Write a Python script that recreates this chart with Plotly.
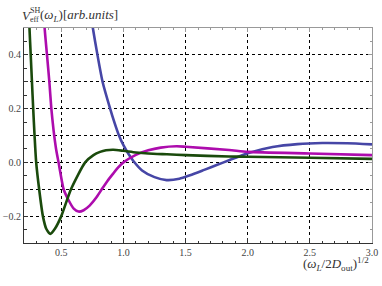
import plotly.graph_objects as go

# ---- data ----
green_x = [0.240, 0.244, 0.254, 0.264, 0.274, 0.285, 0.298, 0.322, 0.352, 0.380, 0.412, 0.450,
           0.500, 0.578, 0.692, 0.759, 0.812, 0.860, 0.919, 1.000, 1.100, 1.200, 1.350,
           1.500, 1.850, 2.000, 2.500, 3.000]
green_y = [0.56, 0.50, 0.40, 0.30, 0.20, 0.10, 0.0, -0.10, -0.20, -0.248, -0.266, -0.246,
           -0.200, -0.100, 0.000, 0.027, 0.039, 0.045, 0.047, 0.043, 0.037, 0.033, 0.030,
           0.027, 0.022, 0.021, 0.017, 0.013]

magenta_x = [0.360, 0.366, 0.385, 0.404, 0.420, 0.438, 0.458, 0.478, 0.519, 0.558, 0.600, 0.639,
             0.680, 0.730, 0.780, 0.826, 0.870, 0.919, 0.960, 1.000, 1.100, 1.200, 1.300, 1.427,
             1.500, 1.850, 2.000, 2.500, 3.000]
magenta_y = [0.56, 0.50, 0.40, 0.30, 0.20, 0.119, 0.050, 0.0, -0.10, -0.140, -0.172, -0.183,
             -0.178, -0.160, -0.132, -0.100, -0.070, -0.041, -0.018, 0.000, 0.028, 0.045, 0.055, 0.060,
             0.058, 0.046, 0.039, 0.033, 0.027]

blue_x = [0.735, 0.754, 0.791, 0.832, 0.893, 0.930, 0.960, 1.000, 1.040, 1.080, 1.150, 1.250,
          1.347, 1.450, 1.536, 1.650, 1.750, 1.850, 2.000, 2.200, 2.400, 2.600, 2.800, 3.000]
blue_y = [0.56, 0.50, 0.40, 0.30, 0.20, 0.145, 0.105, 0.064, 0.032, 0.005, -0.030, -0.055,
          -0.066, -0.061, -0.048, -0.028, -0.010, 0.008, 0.034, 0.057, 0.068, 0.072, 0.071, 0.067]

x_tick_vals = [0.5, 1.0, 1.5, 2.0, 2.5, 3.0]
x_tick_text = ["0.5", "1.0", "1.5", "2.0", "2.5", "3.0"]
y_tick_vals = [-0.2, -0.1, 0.0, 0.1, 0.2, 0.3, 0.4]
y_tick_text = ["\u22120.2", "", "0.0", "", "0.2", "", "0.4"]

W, H = 382, 286
ML, MR, MT, MB = 24, 10, 28, 43
PW, PH = W - ML - MR, H - MT - MB


def px(xp):
    return (xp - ML) / PW


def py(yp):
    return 1 - (yp - MT) / PH


fig = go.Figure()
for xs, ys, col in [(blue_x, blue_y, "#4646a6"),
                    (magenta_x, magenta_y, "#ad0cad"),
                    (green_x, green_y, "#1a4a0c")]:
    fig.add_trace(go.Scatter(x=xs, y=ys, mode="lines",
                             line=dict(color=col, width=2.6, shape="spline", smoothing=0.6),
                             showlegend=False, hoverinfo="skip"))

# invisible trace to draw top/right frame ticks
fig.add_trace(go.Scatter(x=[0.2, 3.0], y=[-0.3, 0.5], xaxis="x2", yaxis="y2",
                         mode="markers", marker=dict(opacity=0), showlegend=False,
                         hoverinfo="skip"))

serif = "Liberation Serif"

fig.update_layout(
    width=W, height=H,
    margin=dict(l=ML, r=MR, t=MT, b=MB, autoexpand=False),
    paper_bgcolor="white", plot_bgcolor="white",
    font=dict(family=serif, size=10, color="#444"),
    xaxis=dict(range=[0.2, 3.0], showline=True, linecolor="#333", linewidth=1,
               automargin=False,
               tickvals=x_tick_vals, ticktext=x_tick_text,
               ticks="inside", ticklen=5, tickcolor="#333",
               showgrid=True, gridcolor="black", griddash="dot", gridwidth=1,
               zeroline=False,
               minor=dict(dtick=0.1, ticks="inside", ticklen=2.5, tickcolor="#333",
                          showgrid=False, tick0=0.2),
               tickfont=dict(family=serif, size=10, color="#444")),
    yaxis=dict(range=[-0.3, 0.5], showline=True, linecolor="#333", linewidth=1,
               automargin=False,
               tickvals=y_tick_vals, ticktext=y_tick_text,
               ticks="inside", ticklen=4, tickcolor="#333",
               showgrid=True, gridcolor="black", griddash="dot", gridwidth=1,
               zeroline=False,
               minor=dict(dtick=0.05, tick0=0, ticks="inside", ticklen=2.5,
                          tickcolor="#333", showgrid=False),
               tickfont=dict(family=serif, size=10, color="#444")),
    xaxis2=dict(range=[0.2, 3.0], overlaying="x", side="top", showline=True,
                automargin=False,
                linecolor="#999", linewidth=1, showgrid=False, zeroline=False,
                showticklabels=False, ticks="inside", ticklen=4, tickcolor="#999",
                tickvals=x_tick_vals,
                minor=dict(dtick=0.1, tick0=0.2, ticks="inside", ticklen=2,
                           tickcolor="#999", showgrid=False)),
    yaxis2=dict(range=[-0.3, 0.5], overlaying="y", side="right", showline=True,
                automargin=False,
                linecolor="#999", linewidth=1, showgrid=False, zeroline=False,
                showticklabels=False, ticks="inside", ticklen=4, tickcolor="#999",
                tickvals=[-0.2, 0.0, 0.2, 0.4],
                minor=dict(dtick=0.05, tick0=0, ticks="inside", ticklen=2,
                           tickcolor="#999", showgrid=False)),
)

tf = dict(family=serif, size=13, color="#333")
ann = [
    dict(text="<i>V</i>", x=px(20), y=py(15), xanchor="left", yanchor="middle", font=tf),
    dict(text="SH", x=px(28), y=py(11), xanchor="left", yanchor="middle",
         font=dict(family=serif, size=8, color="#333")),
    dict(text="eff", x=px(28), y=py(19.5), xanchor="left", yanchor="middle",
         font=dict(family=serif, size=8, color="#333")),
    dict(text="(<i>ω</i><sub><i>L</i></sub>)[<i>arb.units</i>]", x=px(38), y=py(15),
         xanchor="left", yanchor="middle", font=tf),
    dict(text="(<i>ω</i><sub><i>L</i></sub>/2<i>D</i><sub>out</sub>)<sup>1/2</sup>",
         x=px(371), y=py(264), xanchor="right", yanchor="middle", font=tf),
]
for a in ann:
    a.update(xref="paper", yref="paper", showarrow=False)
    fig.add_annotation(**a)

fig.write_html("out.html", config={"displayModeBar": False},
               post_script="document.body.style.margin='0';")
